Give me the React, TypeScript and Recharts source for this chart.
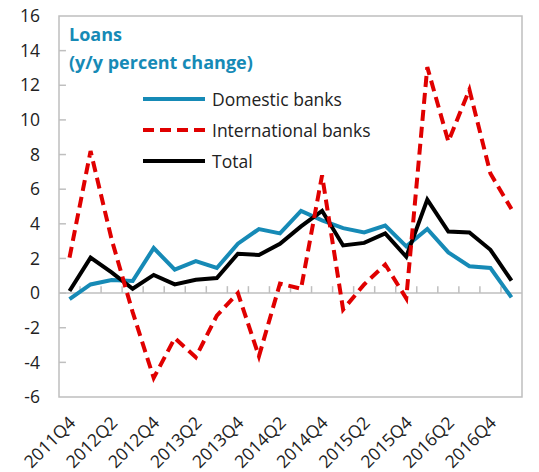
import {
  LineChart,
  Line,
  XAxis,
  YAxis,
  ReferenceArea,
  ReferenceLine,
} from "recharts";

const quarters = [
  "2011Q4", "2012Q1", "2012Q2", "2012Q3", "2012Q4", "2013Q1", "2013Q2", "2013Q3",
  "2013Q4", "2014Q1", "2014Q2", "2014Q3", "2014Q4", "2015Q1", "2015Q2", "2015Q3",
  "2015Q4", "2016Q1", "2016Q2", "2016Q3", "2016Q4", "2017Q1",
];

const domestic = [
  -0.35, 0.5, 0.75, 0.7, 2.6, 1.35, 1.85, 1.45, 2.85, 3.7, 3.45, 4.75, 4.2, 3.75,
  3.5, 3.9, 2.7, 3.7, 2.35, 1.55, 1.45, -0.25,
];

const international = [
  2.05, 8.2, 3.1, -1.1, -4.9, -2.6, -3.7, -1.3, 0.0, -3.65, 0.55, 0.25, 6.8, -0.95,
  0.5, 1.65, -0.3, 13.05, 8.75, 11.75, 6.9, 4.85,
];

const total = [
  0.12, 2.05, 1.2, 0.25, 1.05, 0.5, 0.77, 0.87, 2.27, 2.2, 2.85, 3.85, 4.75, 2.75,
  2.9, 3.45, 2.1, 5.4, 3.55, 3.5, 2.5, 0.72,
];

const yTicks = [-6, -4, -2, 0, 2, 4, 6, 8, 10, 12, 14, 16];

const BLUE = "#168ab6";
const RED = "#e00000";
const GRID = "#bfbfbf";
const FONT = "'Open Sans', 'Noto Sans', sans-serif";

// each quarter sits in the middle of its band
const data = quarters.map((q, i) => ({
  x: i + 0.5,
  quarter: q,
  domestic: domestic[i],
  international: international[i],
  total: total[i],
}));

const labelTicks = data.filter((_, i) => i % 2 === 0).map((d) => d.x);

const XTick = (props: any) => {
  const { x, y, payload } = props;
  const label = quarters[Math.floor(payload.value)];
  const ax = x + 7;
  const ay = y + 19;
  return (
    <text
      x={ax}
      y={ay}
      transform={`rotate(-45, ${ax}, ${ay})`}
      textAnchor="end"
      fontSize={17.5}
      fontFamily={FONT}
      fill="#222"
    >
      {label}
    </text>
  );
};

const legendItems = [
  { name: "Domestic banks", color: BLUE, dash: undefined },
  { name: "International banks", color: RED, dash: "11 6" },
  { name: "Total", color: "#000", dash: undefined },
];

const LegendBox = () => (
  <div
    style={{
      position: "absolute",
      left: 142,
      top: 83,
      fontFamily: FONT,
      fontSize: 17.5,
      color: "#222",
    }}
  >
    {legendItems.map((it) => (
      <div key={it.name} style={{ display: "flex", alignItems: "center", height: 31 }}>
        <svg width={64} height={10} style={{ marginRight: 6 }}>
          <line x1={1} y1={5} x2={63} y2={5} stroke={it.color} strokeWidth={4} strokeDasharray={it.dash} />
        </svg>
        <span>{it.name}</span>
      </div>
    ))}
  </div>
);

export default function App() {
  return (
    <div style={{ position: "absolute", left: 0, top: 0, width: 539, height: 472, background: "#fff" }}>
      <LineChart
        width={539}
        height={472}
        data={data}
        margin={{ top: 16, right: 17, left: 0, bottom: 0 }}
      >
        <XAxis
          dataKey="x"
          type="number"
          domain={[0, 22]}
          ticks={labelTicks}
          interval={0}
          height={75}
          axisLine={false}
          tickLine={false}
          tick={<XTick />}
        />
        <YAxis
          type="number"
          domain={[-6, 16]}
          ticks={yTicks}
          width={59}
          axisLine={false}
          tickLine={false}
          tickSize={0}
          tickMargin={19}
          tick={{ fontSize: 17.5, fontFamily: FONT, fill: "#222" }}
        />
        <ReferenceArea x1={0} x2={22} y1={-6} y2={16} fill="none" stroke={GRID} strokeWidth={1.5} />
        <ReferenceLine y={0} stroke={GRID} strokeWidth={1.5} />
        {quarters.slice(1).map((q, i) => (
          <ReferenceLine
            key={"xt" + q}
            segment={[{ x: i + 1, y: 0 }, { x: i + 1, y: 0.4 }]}
            stroke={GRID}
            strokeWidth={1.5}
          />
        ))}
        {yTicks.slice(1, -1).map((v) => (
          <ReferenceLine
            key={"yt" + v}
            segment={[{ x: 0, y: v }, { x: 0.33, y: v }]}
            stroke={GRID}
            strokeWidth={1.5}
          />
        ))}
        <Line
          dataKey="domestic"
          name="Domestic banks"
          stroke={BLUE}
          strokeWidth={4}
          dot={false}
          isAnimationActive={false}
        />
        <Line
          dataKey="total"
          name="Total"
          stroke="#000"
          strokeWidth={4}
          dot={false}
          isAnimationActive={false}
        />
        <Line
          dataKey="international"
          name="International banks"
          stroke={RED}
          strokeWidth={4}
          strokeDasharray="11 6"
          dot={false}
          isAnimationActive={false}
        />
      </LineChart>
      <LegendBox />
      <div
        style={{
          position: "absolute",
          left: 69,
          top: 20,
          fontFamily: FONT,
          fontWeight: 700,
          fontSize: 18,
          lineHeight: "28px",
          color: BLUE,
        }}
      >
        Loans
        <br />
        (y/y percent change)
      </div>
    </div>
  );
}
